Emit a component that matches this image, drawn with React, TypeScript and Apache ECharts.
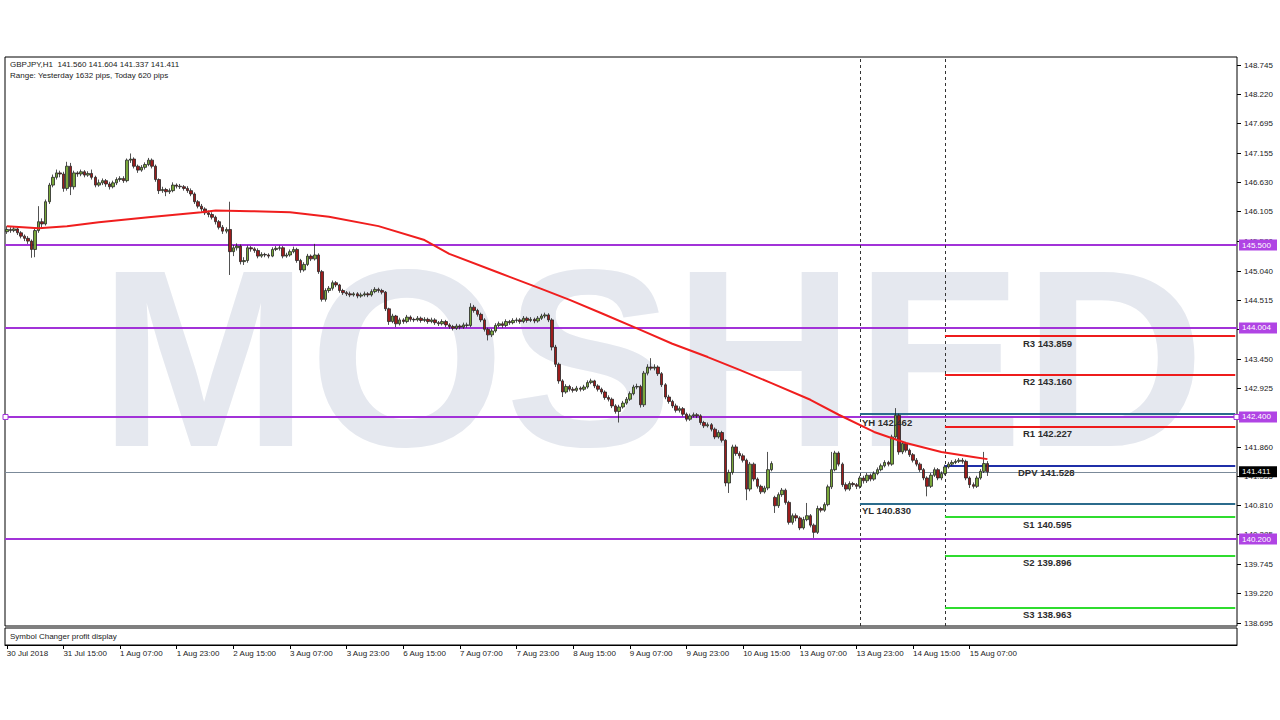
import React, { useEffect, useRef } from "react";
import * as echarts from "echarts";

const symbolTitle = "GBPJPY,H1  141.560 141.604 141.337 141.411";
const rangeText = "Range: Yesterday 1632 pips, Today 620 pips";
const subPanelTitle = "Symbol Changer profit display";
const watermarkText = "MOSHED";
const firstDateLabel = "30 Jul 2018";

// trading days: [label, first hour, last hour]
const tradingDays: [string, number, number][] = [
  ["30 Jul", 23, 23], ["31 Jul", 0, 23], ["1 Aug", 0, 23], ["2 Aug", 0, 23], ["3 Aug", 0, 23],
  ["6 Aug", 0, 23], ["7 Aug", 0, 23], ["8 Aug", 0, 23], ["9 Aug", 0, 23], ["10 Aug", 0, 23],
  ["13 Aug", 0, 23], ["14 Aug", 0, 23], ["15 Aug", 0, 12],
];
const emptySlots = 70;
const dayStartIndexes = [241, 265]; // 14 Aug 00:00, 15 Aug 00:00

const firstOpen = 145.74;
const gapOpens: Record<number, number> = { 217: 140.95 };

const closes = [
  145.78,145.76,145.79,145.72,145.66,145.62,145.57,145.42,145.76,145.92,
  145.88,146.28,146.58,146.72,146.80,146.78,146.52,146.92,146.55,146.80,
  146.78,146.82,146.76,146.79,146.72,146.58,146.62,146.66,146.60,146.55,
  146.62,146.68,146.70,146.66,147.03,147.05,146.92,146.85,146.90,146.95,
  147.03,146.92,146.68,146.48,146.50,146.46,146.48,146.58,146.56,146.55,
  146.52,146.48,146.42,146.28,146.20,146.15,146.08,146.05,146.00,145.92,
  145.82,145.75,145.78,145.38,145.45,145.48,145.20,145.22,145.45,145.43,
  145.40,145.30,145.33,145.32,145.30,145.42,145.44,145.45,145.30,145.32,
  145.38,145.42,145.22,145.05,145.15,145.30,145.25,145.32,145.02,144.52,
  144.68,144.72,144.82,144.78,144.68,144.64,144.62,144.60,144.62,144.58,
  144.60,144.62,144.60,144.66,144.70,144.68,144.65,144.35,144.12,144.22,
  144.08,144.15,144.12,144.20,144.16,144.15,144.18,144.14,144.16,144.12,
  144.15,144.10,144.08,144.12,144.06,144.03,144.00,144.04,144.02,144.06,
  144.05,144.38,144.32,144.25,144.15,143.98,143.88,143.95,144.05,144.08,
  144.05,144.12,144.10,144.14,144.15,144.12,144.18,144.14,144.16,144.13,
  144.18,144.22,144.24,144.15,143.66,143.35,143.05,142.85,142.95,142.90,
  142.88,142.92,142.90,142.94,143.02,143.05,142.96,142.90,142.85,142.75,
  142.72,142.60,142.50,142.58,142.65,142.72,142.82,142.94,142.95,142.62,
  143.19,143.30,143.28,143.30,143.18,142.98,142.76,142.68,142.60,142.52,
  142.55,142.45,142.36,142.42,142.44,142.42,142.30,142.24,142.26,142.18,
  142.04,142.12,141.98,141.21,141.40,141.86,141.74,141.70,141.62,141.10,
  141.55,141.28,141.15,141.05,141.12,141.45,141.56,140.80,141.00,141.08,
  140.86,140.50,140.62,140.58,140.40,140.55,140.62,140.45,140.32,140.75,
  140.72,140.82,141.14,141.45,141.75,141.55,141.18,141.10,141.20,141.18,
  141.15,141.30,141.25,141.35,141.28,141.38,141.45,141.52,141.58,141.55,
  142.04,142.43,141.77,141.92,141.80,141.72,141.62,141.55,141.45,141.30,
  141.15,141.35,141.45,141.30,141.38,141.50,141.55,141.58,141.60,141.62,
  141.60,141.30,141.18,141.15,141.30,141.42,141.56,141.411,
];

const highs = [
  145.84,145.82,145.83,145.81,145.75,145.69,145.66,145.60,145.82,146.20,
  145.98,146.32,146.62,146.77,146.86,146.84,146.82,147.00,146.98,146.84,
  146.83,146.86,146.85,146.83,146.86,146.75,146.68,146.70,146.69,146.64,
  146.66,146.72,146.74,146.74,147.06,147.15,147.08,146.95,146.94,146.99,
  147.07,147.06,146.95,146.70,146.55,146.53,146.52,146.63,146.61,146.60,
  146.58,146.56,146.52,146.45,146.31,146.24,146.18,146.12,146.09,146.03,
  145.95,145.86,145.82,146.28,145.50,145.53,145.51,145.28,145.49,145.48,
  145.46,145.44,145.37,145.36,145.35,145.46,145.48,145.49,145.48,145.36,
  145.42,145.47,145.45,145.25,145.19,145.34,145.33,145.52,145.35,145.05,
  144.72,144.76,144.86,144.85,144.80,144.71,144.67,144.66,144.65,144.65,
  144.64,144.66,144.65,144.70,144.74,144.73,144.71,144.67,144.37,144.26,
  144.24,144.19,144.18,144.24,144.23,144.19,144.22,144.21,144.20,144.19,
  144.19,144.18,144.13,144.16,144.15,144.09,144.06,144.08,144.07,144.10,
  144.10,144.45,144.42,144.35,144.28,144.18,144.01,143.99,144.09,144.12,
  144.12,144.16,144.15,144.18,144.19,144.18,144.22,144.21,144.20,144.19,
  144.22,144.26,144.28,144.27,144.18,143.70,143.38,143.08,142.99,142.98,
  142.94,142.96,142.95,142.98,143.06,143.09,143.07,142.99,142.93,142.88,
  142.79,142.75,142.63,142.62,142.69,142.76,142.86,142.98,143.00,142.98,
  143.23,143.35,143.46,143.35,143.33,143.21,143.01,142.80,142.71,142.64,
  142.59,142.58,142.48,142.46,142.48,142.47,142.45,142.33,142.30,142.29,
  142.21,142.16,142.15,142.00,141.45,141.90,141.90,141.78,141.74,141.65,
  141.59,141.58,141.31,141.18,141.16,141.77,141.60,140.98,141.04,141.12,
  141.11,140.89,140.66,140.66,140.61,140.60,140.85,140.65,140.48,140.80,
  140.78,140.86,141.18,141.77,141.79,141.78,141.58,141.22,141.24,141.23,
  141.21,141.34,141.34,141.39,141.38,141.42,141.49,141.56,141.62,141.61,
  142.08,142.56,142.46,141.96,141.95,141.83,141.75,141.66,141.58,141.48,
  141.33,141.39,141.49,141.48,141.42,141.54,141.59,141.62,141.64,141.66,
  141.66,141.63,141.33,141.22,141.34,141.46,141.77,141.604,
];

const lows = [
  145.70,145.72,145.73,145.68,145.62,145.57,145.52,145.27,145.28,145.72,
  145.82,145.85,146.24,146.54,146.68,146.72,146.46,146.48,146.40,146.50,
  146.73,146.74,146.72,146.73,146.68,146.54,146.55,146.58,146.55,146.50,
  146.52,146.58,146.64,146.62,146.63,146.98,146.88,146.80,146.82,146.86,
  146.92,146.88,146.64,146.42,146.44,146.38,146.42,146.45,146.52,146.51,
  146.48,146.44,146.38,146.24,146.16,146.10,146.04,146.00,145.96,145.87,
  145.78,145.70,145.71,144.96,145.30,145.40,145.15,145.14,145.18,145.38,
  145.36,145.26,145.27,145.28,145.26,145.28,145.39,145.40,145.26,145.27,
  145.29,145.35,145.18,145.00,145.02,145.12,145.21,145.22,144.98,144.48,
  144.48,144.64,144.68,144.74,144.64,144.60,144.58,144.56,144.57,144.54,
  144.55,144.57,144.56,144.57,144.63,144.64,144.61,144.31,144.06,144.09,
  144.02,144.05,144.08,144.09,144.12,144.11,144.12,144.10,144.11,144.08,
  144.09,144.06,144.04,144.05,144.02,143.99,143.96,143.97,143.98,143.99,
  144.01,144.02,144.28,144.21,144.11,143.94,143.78,143.84,143.92,144.02,
  144.01,144.02,144.06,144.07,144.10,144.08,144.09,144.10,144.11,144.09,
  144.10,144.15,144.18,144.11,143.60,143.30,143.00,142.76,142.82,142.86,
  142.84,142.85,142.86,142.87,142.91,142.99,142.92,142.86,142.81,142.71,
  142.68,142.56,142.46,142.30,142.55,142.62,142.69,142.79,142.90,142.57,
  142.58,143.15,143.24,143.24,143.14,142.94,142.72,142.64,142.56,142.48,
  142.48,142.41,142.32,142.33,142.39,142.38,142.26,142.20,142.21,142.14,
  142.00,142.01,141.94,141.15,141.03,141.36,141.70,141.65,141.58,140.90,
  141.06,141.24,141.11,141.01,141.02,141.08,141.42,140.67,140.76,140.96,
  140.82,140.46,140.46,140.52,140.36,140.37,140.52,140.41,140.22,140.29,
  140.68,140.69,140.79,141.10,141.42,141.51,141.14,141.06,141.07,141.14,
  141.10,141.11,141.20,141.21,141.24,141.25,141.35,141.42,141.49,141.51,
  141.52,142.00,141.72,141.73,141.76,141.68,141.58,141.51,141.41,141.26,
  140.97,141.12,141.32,141.26,141.26,141.35,141.47,141.52,141.55,141.57,
  141.56,141.26,141.12,141.11,141.12,141.27,141.39,141.337,
];

// moving average read at selected bars: [bar index, value]
const maPoints: [number, number][] = [
  [0, 145.84], [9, 145.80], [17, 145.84], [26, 145.91], [40, 146.00], [55, 146.09],
  [59, 146.12], [69, 146.11], [80, 146.09], [91, 146.01], [105, 145.84], [118, 145.59],
  [125, 145.34], [139, 145.00], [151, 144.71], [159, 144.51], [168, 144.27], [179, 143.97],
  [188, 143.72], [198, 143.48], [207, 143.25], [216, 143.01], [227, 142.71], [235, 142.44],
  [245, 142.13], [254, 141.93], [264, 141.77], [273, 141.68], [277, 141.64],
];

const levelValues = [145.5, 144.004, 142.4, 140.2];
const levelLabels = ["145.500", "144.004", "142.400", "140.200"];

const pivotNames = ["R3", "R2", "R1", "DPV", "S1", "S2", "S3"];
const pivotValues = [143.859, 143.16, 142.227, 141.528, 140.595, 139.896, 138.963];
const yesterdayNames = ["YH", "YL"];
const yesterdayValues = [142.462, 140.83];

const lastPrice = 141.411;
const lastPriceLabel = "141.411";

const yTickValues = [
  148.745, 148.22, 147.695, 147.155, 146.63, 146.105, 145.58, 145.04, 144.515, 143.99,
  143.45, 142.925, 142.4, 141.86, 141.335, 140.81, 140.285, 139.745, 139.22, 138.695,
];
const yTickLabels = [
  "148.745", "148.220", "147.695", "147.155", "146.630", "146.105", "145.580", "145.040", "144.515", "143.990",
  "143.450", "142.925", "142.400", "141.860", "141.335", "140.810", "140.285", "139.745", "139.220", "138.695",
];
const yMin = 138.632;
const yMax = 148.889;

const FONT = '"Liberation Sans", Arial, sans-serif';
const PURPLE = "#a232d8";

export default function App() {
  const ref = useRef<HTMLDivElement>(null);

  useEffect(() => {
    const chart = echarts.init(ref.current!, undefined, { renderer: "svg" });

    const categories: string[] = [];
    tradingDays.forEach(([d, h0, h1]) => {
      for (let h = h0; h <= h1; h++) categories.push(`${d} ${String(h).padStart(2, "0")}:00`);
    });
    const barCount = categories.length;
    for (let k = 0; k < emptySlots; k++) categories.push(`future-${k}`);
    const lastIdx = categories.length - 1;

    const candleData = closes.map((c, i) => {
      const o = i === 0 ? firstOpen : gapOpens[i] !== undefined ? gapOpens[i] : closes[i - 1];
      const h = Math.max(highs[i], o, c);
      const l = Math.min(lows[i], o, c);
      return [o, c, l, h];
    });

    const showLabel = (i: number) => i < barCount && i % 16 === 0;

    const markLines: any[] = [];
    levelValues.forEach((v) =>
      markLines.push({ yAxis: v, lineStyle: { color: PURPLE, width: 2, type: "solid" } })
    );
    markLines.push({ yAxis: lastPrice, lineStyle: { color: "#7b8a99", width: 1, type: "solid" } });
    dayStartIndexes.forEach((i) =>
      markLines.push({ xAxis: categories[i], lineStyle: { color: "#333", width: 1, type: [3, 3] } })
    );
    const pivotColor = (n: string) =>
      n.startsWith("R") ? "#ee1c1c" : n.startsWith("S") ? "#2fdc2f" : "#1f2fa8";
    pivotNames.forEach((n, k) =>
      markLines.push([
        { coord: [categories[dayStartIndexes[1]], pivotValues[k]], lineStyle: { color: pivotColor(n), width: 2, type: "solid" } },
        { coord: [categories[lastIdx], pivotValues[k]] },
      ])
    );
    yesterdayValues.forEach((v) =>
      markLines.push([
        { coord: [categories[dayStartIndexes[0]], v], lineStyle: { color: "#2b6b8c", width: 2, type: "solid" } },
        { coord: [categories[lastIdx], v] },
      ])
    );

    const option: any = {
      animation: false,
      backgroundColor: "#ffffff",
      grid: [
        { left: 5, top: 57, width: 1232, height: 569, show: true, borderColor: "#000", borderWidth: 1, backgroundColor: "transparent" },
        { left: 5, top: 628, width: 1232, height: 17, show: true, borderColor: "#000", borderWidth: 1, backgroundColor: "transparent" },
      ],
      xAxis: [
        {
          type: "category", gridIndex: 0, data: categories, boundaryGap: true,
          axisLine: { show: false }, axisTick: { show: false }, axisLabel: { show: false }, splitLine: { show: false },
        },
        {
          type: "category", gridIndex: 1, data: categories, boundaryGap: true,
          axisLine: { show: true, lineStyle: { color: "#000", width: 1 } },
          axisTick: { show: true, alignWithLabel: true, length: 4, lineStyle: { color: "#000" }, interval: (i: number) => showLabel(i) },
          axisLabel: {
            show: true, interval: (i: number) => showLabel(i), align: "left", margin: 4,
            fontFamily: FONT, fontSize: 8, color: "#222",
            formatter: (val: string, i: number) => (i === 0 ? firstDateLabel : val),
          },
          splitLine: { show: false },
        },
      ],
      yAxis: [
        {
          type: "value", gridIndex: 0, position: "right", min: yMin, max: yMax,
          axisLine: { show: false }, axisTick: { show: false }, axisLabel: { show: false }, splitLine: { show: false },
        },
        {
          type: "value", gridIndex: 1, position: "right", min: 0, max: 1,
          axisLine: { show: false }, axisTick: { show: false }, axisLabel: { show: false }, splitLine: { show: false },
        },
      ],
      series: [
        {
          type: "candlestick", xAxisIndex: 0, yAxisIndex: 0, data: candleData, barWidth: 3, z: 3,
          itemStyle: { color: "#79a83a", color0: "#9c1c1c", borderColor: "#262626", borderColor0: "#262626", borderWidth: 0.8 },
          markLine: { silent: true, symbol: "none", label: { show: false }, animation: false, data: markLines, z: 2 },
        },
        {
          type: "line", xAxisIndex: 0, yAxisIndex: 0, showSymbol: false, symbol: "none", z: 4,
          data: maPoints.map(([i, v]) => [categories[i], v]),
          lineStyle: { color: "#f01e1e", width: 2 },
        },
      ],
    };
    chart.setOption(option);

    const py = (v: number) => chart.convertToPixel({ yAxisIndex: 0 } as any, v) as number;
    const gfx: any[] = [
      {
        type: "text", x: 652, y: 358, z: -10, silent: true,
        style: { text: watermarkText, font: `bold 252px ${FONT}`, fill: "#e5e8ef", textAlign: "center", textVerticalAlign: "middle" },
      },
      { type: "text", x: 10, y: 64, z: 20, style: { text: symbolTitle, font: `8px ${FONT}`, fill: "#1a1a1a", textVerticalAlign: "middle" } },
      { type: "text", x: 10, y: 75, z: 20, style: { text: rangeText, font: `8px ${FONT}`, fill: "#1a1a1a", textVerticalAlign: "middle" } },
      { type: "text", x: 10, y: 636, z: 20, style: { text: subPanelTitle, font: `8px ${FONT}`, fill: "#1a1a1a", textVerticalAlign: "middle" } },
    ];
    yTickValues.forEach((v, k) => {
      const y = Math.round(py(v)) + 0.5;
      gfx.push({ type: "line", z: 20, shape: { x1: 1237, y1: y, x2: 1241, y2: y }, style: { stroke: "#000", lineWidth: 1 } });
      gfx.push({ type: "text", x: 1244, y, z: 20, style: { text: yTickLabels[k], font: `8px ${FONT}`, fill: "#222", textVerticalAlign: "middle" } });
    });
    levelValues.forEach((v, k) => {
      const y = py(v);
      gfx.push({ type: "rect", z: 21, shape: { x: 1239, y: y - 5.5, width: 38, height: 11 }, style: { fill: "#b044e4" } });
      gfx.push({ type: "text", x: 1242, y, z: 22, style: { text: levelLabels[k], font: `8px ${FONT}`, fill: "#fff", textVerticalAlign: "middle" } });
    });
    {
      const y = py(lastPrice);
      gfx.push({ type: "rect", z: 21, shape: { x: 1239, y: y - 5.5, width: 38, height: 11 }, style: { fill: "#000" } });
      gfx.push({ type: "text", x: 1242, y, z: 22, style: { text: lastPriceLabel, font: `8px ${FONT}`, fill: "#fff", textVerticalAlign: "middle" } });
    }
    {
      const y = py(levelValues[2]);
      gfx.push({ type: "rect", z: 21, shape: { x: 3, y: y - 2.5, width: 5, height: 5 }, style: { fill: "#fff", stroke: PURPLE, lineWidth: 1 } });
      gfx.push({ type: "rect", z: 21, shape: { x: 1234, y: y - 2.5, width: 5, height: 5 }, style: { fill: "#fff", stroke: PURPLE, lineWidth: 1 } });
    }
    pivotNames.forEach((n, k) => {
      const y = py(pivotValues[k]);
      gfx.push({
        type: "text", x: n === "DPV" ? 1018 : 1023, y: y + 7, z: 20,
        style: { text: `${n} ${pivotValues[k].toFixed(3)}`, font: `bold 9.5px ${FONT}`, fill: "#2d2d2d", textVerticalAlign: "middle" },
      });
    });
    yesterdayNames.forEach((n, k) => {
      const y = py(yesterdayValues[k]);
      gfx.push({
        type: "text", x: 862, y: y + (k === 0 ? 9 : 6), z: 20,
        style: { text: `${n} ${yesterdayValues[k].toFixed(3)}`, font: `bold 9.5px ${FONT}`, fill: "#2d2d2d", textVerticalAlign: "middle" },
      });
    });
    chart.setOption({ graphic: gfx });

    return () => chart.dispose();
  }, []);

  return (
    <div
      ref={ref}
      style={{ position: "fixed", left: 0, top: 0, width: 1280, height: 720, background: "#fff" }}
    />
  );
}
